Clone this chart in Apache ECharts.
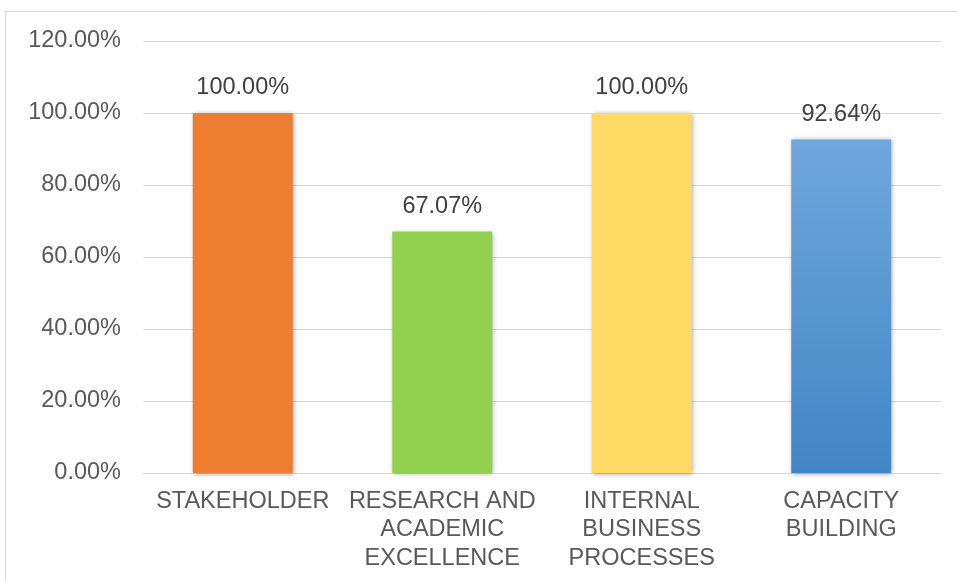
<!DOCTYPE html>
<html>
<head>
<meta charset="utf-8">
<script src="https://cdn.jsdelivr.net/npm/echarts@6/dist/echarts.min.js"></script>
<style>
html,body{margin:0;padding:0;background:#fff;}
#c{width:957px;height:581px;}
</style>
</head>
<body>
<div id="c"></div>
<script>
var categories = ['STAKEHOLDER', 'RESEARCH AND\nACADEMIC\nEXCELLENCE', 'INTERNAL\nBUSINESS\nPROCESSES', 'CAPACITY\nBUILDING'];
var values = [1.0, 0.6707, 1.0, 0.9264];
var yTicks = { min: 0, max: 1.2, interval: 0.2 };

var font = 'Liberation Sans, Arial, sans-serif';
var barColors = [
  '#ED7D31',
  '#92D050',
  '#FFD966',
  new echarts.graphic.LinearGradient(0, 0, 0, 1, [
    { offset: 0, color: '#70A7DC' },
    { offset: 1, color: '#4186C7' }
  ])
];

var chart = echarts.init(document.getElementById('c'), null, { renderer: 'canvas' });
chart.setOption({
  animation: false,
  backgroundColor: '#fff',
  graphic: [{
    type: 'rect',
    shape: { x: 5.5, y: 11.5, width: 1000, height: 700 },
    style: { fill: 'none', stroke: '#d9d9d9', lineWidth: 1 },
    silent: true
  }],
  grid: { left: 143, right: 16, top: 41, bottom: 108, containLabel: false },
  xAxis: {
    type: 'category',
    data: categories,
    axisLine: { show: true, lineStyle: { color: '#d9d9d9', width: 1 } },
    axisTick: { show: false },
    axisLabel: {
      interval: 0,
      color: '#595959',
      fontFamily: font,
      fontSize: 23.5,
      lineHeight: 28.5,
      margin: 14
    }
  },
  yAxis: {
    type: 'value',
    min: yTicks.min,
    max: yTicks.max,
    interval: yTicks.interval,
    axisLine: { show: false },
    axisTick: { show: false },
    splitLine: { lineStyle: { color: '#d9d9d9', width: 1 } },
    axisLabel: {
      color: '#595959',
      fontFamily: font,
      fontSize: 23.5,
      margin: 22,
      formatter: function (v) { return (v * 100).toFixed(2) + '%'; }
    }
  },
  series: [{
    type: 'bar',
    barWidth: 100,
    data: values.map(function (v, i) {
      return { value: v, itemStyle: { color: barColors[i] } };
    }),
    itemStyle: {
      shadowBlur: 5,
      shadowColor: 'rgba(0,0,0,0.35)',
      shadowOffsetX: 1,
      shadowOffsetY: 1
    },
    label: {
      show: true,
      position: 'top',
      distance: 13,
      color: '#404040',
      fontFamily: font,
      fontSize: 23.5,
      formatter: function (p) { return (p.value * 100).toFixed(2) + '%'; }
    }
  }]
});
</script>
</body>
</html>
